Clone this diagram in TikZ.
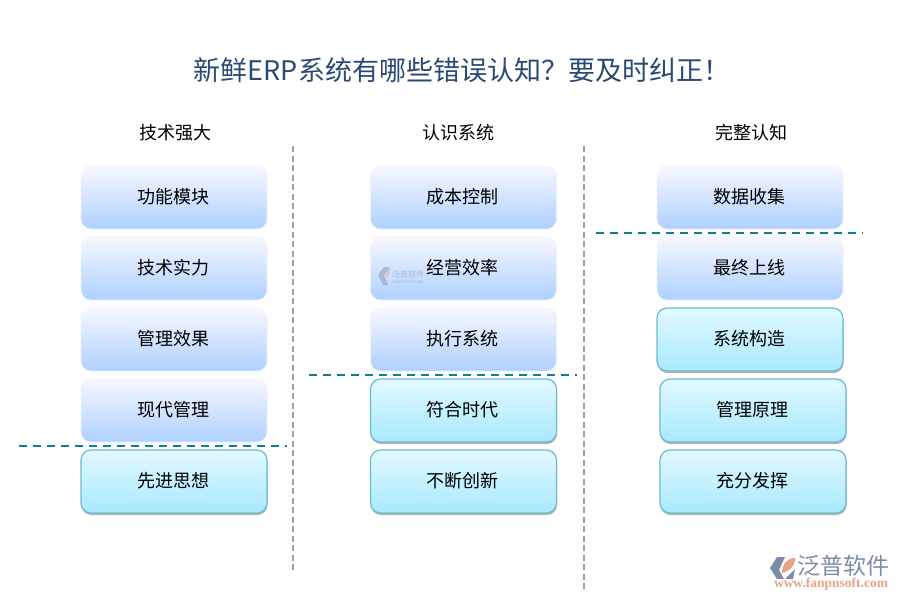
\documentclass[tikz,border=0pt]{standalone}
\usepackage{fontspec}
\setmainfont{Noto Sans CJK SC}
\newfontfamily\urlfont{Liberation Serif}
\usetikzlibrary{positioning,shadows}
\definecolor{titleblue}{HTML}{2B4A72}
\definecolor{splitteal}{HTML}{0F7C9C}
\definecolor{logogray}{HTML}{7C8CA8}
\definecolor{logoorange}{HTML}{E8A384}
\tikzset{
  softbox/.style={rounded corners=10pt, minimum width=186pt, minimum height=63pt,
    inner sep=0pt, outer sep=0pt, draw=blue!6, line width=0.6pt, top color=blue!3!white,
    bottom color={rgb,255:red,174;green,208;blue,255},
    text height=17.4pt, text depth=5.4pt, execute at begin node={\kern-2pt},
    font=\fontsize{18}{18}\selectfont},
  tealbox/.style={softbox, draw={rgb,255:red,110;green,186;blue,208}, line width=1.2pt,
    top color={rgb,255:red,226;green,249;blue,255},
    bottom color={rgb,255:red,168;green,233;blue,255},
    drop shadow={shadow xshift=0.5pt, shadow yshift=-2pt, fill=black, opacity=0.3}},
  headtext/.style={font=\fontsize{18}{18}\selectfont},
  graysplit/.style={draw=gray!75, line width=1.5pt, dash pattern=on 6pt off 3.5pt},
  tealsplit/.style={draw=splitteal, line width=1.6pt, dash pattern=on 8pt off 6pt},
}
\begin{document}
\begin{tikzpicture}[x=1pt,y=-1pt]
    \useasboundingbox (0,0) rectangle (900,600);

    \node[text=titleblue, font=\fontsize{27}{27}\selectfont] (title) at (462,70) {新鲜ERP系统有哪些错误认知？要及时纠正！};

    \node[headtext] (head1) at (175,133) {技术强大};
    \node[headtext] (head2) at (458,133) {认识系统};
    \node[headtext] (head3) at (751,133) {完整认知};

    % first column
    \node[softbox] (a1) at (174,197.5) {功能模块};
    \node[softbox, below=8pt of a1] (a2) {技术实力};
    \node[softbox, below=8pt of a2] (a3) {管理效果};
    \node[softbox, below=8pt of a3] (a4) {现代管理};
    \node[tealbox, below=8pt of a4] (a5) {先进思想};

    % second column
    \node[softbox] (b1) at (463.5,197.5) {成本控制};
    \node[softbox, below=8pt of b1] (b2) {经营效率};
    \node[softbox, below=8pt of b2] (b3) {执行系统};
    \node[tealbox, below=8pt of b3] (b4) {符合时代};
    \node[tealbox, below=8pt of b4] (b5) {不断创新};

    % third column
    \node[softbox] (c1) at (750,197.5) {数据收集};
    \node[softbox, below=8pt of c1] (c2) {最终上线};
    \node[tealbox, below=8pt of c2] (c3) {系统构造};
    \node[tealbox, below=8pt of c3, xshift=3pt] (c4) {管理原理};
    \node[tealbox, below=8pt of c4] (c5) {充分发挥};

    % split lines
    \coordinate (g1a) at (293,146);
    \coordinate (g1b) at (293,572);
    \coordinate (g2a) at (584,146);
    \coordinate (g2b) at (584,592);
    \draw[graysplit] (g1a) -- (g1b);
    \draw[graysplit] (g2a) -- (g2b);

    \coordinate (t1a) at (19,446);
    \coordinate (t1b) at (287,446);
    \coordinate (t2a) at (309,375);
    \coordinate (t2b) at (577,375);
    \coordinate (t3a) at (596,233);
    \coordinate (t3b) at (863,233);
    \draw[tealsplit] (t1a) -- (t1b);
    \draw[tealsplit] (t2a) -- (t2b);
    \draw[tealsplit] (t3a) -- (t3b);

    % logo bottom right
    \fill[logogray] (777,557) -- (770,568) -- (777,579) -- (784,579) -- (779,570) -- (785,557) -- cycle;
    \fill[logoorange] (795,558) .. controls (787,558) and (782,564) .. (782,573) .. controls (788,572) and (795,567) .. (795,558) -- cycle;
    \fill[logogray] (785,579) -- (795,569) -- (793,579) -- cycle;
    \node[text=logogray, font=\fontsize{23}{23}\selectfont, inner sep=0pt] (logoname) at (843,565.5) {泛普软件};
    \node[text=logoorange, font=\urlfont\bfseries\fontsize{13.5}{13.5}\selectfont, inner sep=0pt] (logourl) at (831,584.5) {www.fanpusoft.com};

    % watermark
    \begin{scope}[opacity=0.45]
      \fill[logogray] (384,267) -- (378,275) -- (383,285) -- (388,285) -- (384,275) -- (390,267) -- cycle;
      \fill[logoorange] (390,268) .. controls (386,270) and (385,275) .. (386,278) .. controls (389,276) and (391,272) .. (390,268) -- cycle;
      \node[text=logogray, font=\fontsize{8}{8}\selectfont, inner sep=0pt] (markname) at (408,274) {泛普软件};
      \node[text=logogray, font=\fontsize{3.5}{3.5}\selectfont, inner sep=0pt] (marksub) at (408,282) {FANPU SOFTWARE};
    \end{scope}
\end{tikzpicture}
\end{document}
